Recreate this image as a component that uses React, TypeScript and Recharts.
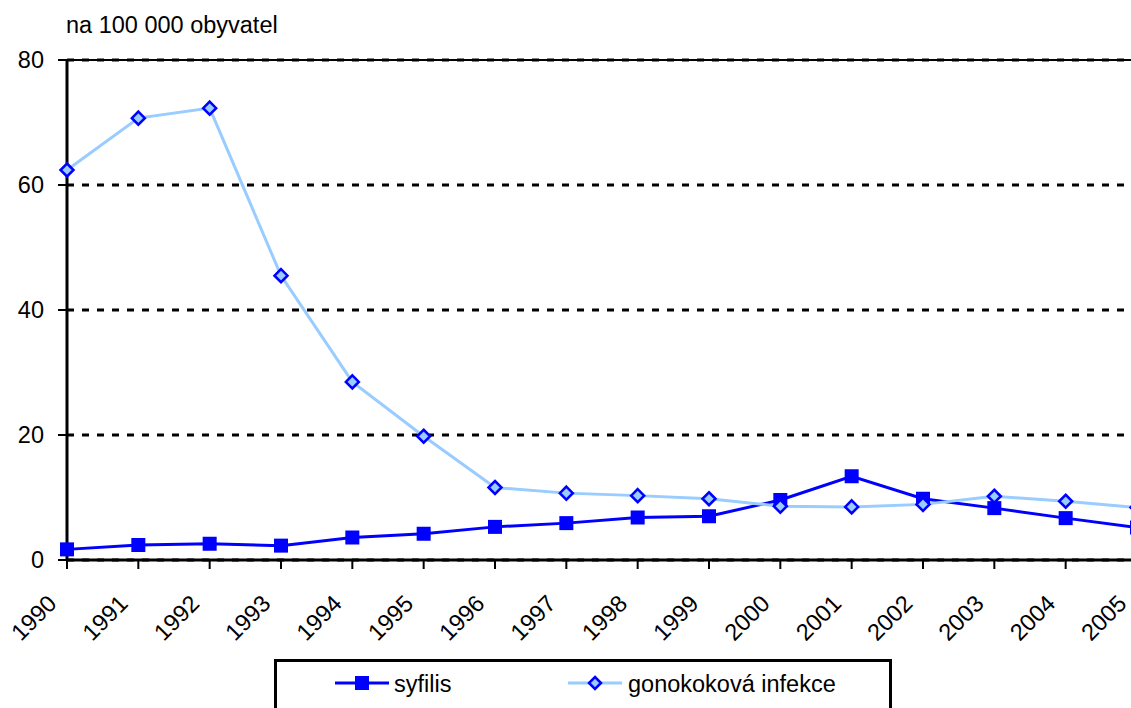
import { LineChart, Line, XAxis, YAxis, CartesianGrid, ReferenceLine } from "recharts";

const YEARS = ["1990", "1991", "1992", "1993", "1994", "1995", "1996", "1997", "1998", "1999", "2000", "2001", "2002", "2003", "2004", "2005"];
const SYFILIS = [1.7, 2.4, 2.6, 2.3, 3.6, 4.2, 5.3, 5.9, 6.8, 7.0, 9.6, 13.4, 9.8, 8.3, 6.7, 5.2];
const GONOKOKOVA = [62.4, 70.7, 72.3, 45.5, 28.5, 19.8, 11.6, 10.7, 10.3, 9.8, 8.6, 8.5, 8.9, 10.2, 9.4, 8.4];
const Y_TICKS = [0, 20, 40, 60, 80];
const TITLE = "na 100 000 obyvatel";

const FONT = "'Liberation Sans', Arial, sans-serif";
const FS = 23.5;
const DARK = "#0000FF";
const LIGHT = "#99CCFF";

const data = YEARS.map((rok, i) => ({
    rok,
    syfilis: SYFILIS[i],
    gono: GONOKOKOVA[i],
}));

// ctverecek pro syfilis
const SquareDot = (props: any) => {
    const { cx, cy } = props;
    if (cx == null || cy == null) return null;
    return <rect x={cx - 7} y={cy - 7} width={14} height={14} fill={DARK} />;
};

// kosoctverec pro gonokokovou infekci
const DiamondDot = (props: any) => {
    const { cx, cy } = props;
    if (cx == null || cy == null) return null;
    const r = 6.5;
    return (
        <polygon
            points={`${cx},${cy - r} ${cx + r},${cy} ${cx},${cy + r} ${cx - r},${cy}`}
            fill={LIGHT}
            stroke={DARK}
            strokeWidth={2.5}
        />
    );
};

const YearTick = (props: any) => {
    const { x, y, payload } = props;
    const tx = x - 9;
    const ty = y + 34;
    return (
        <text
            x={tx}
            y={ty}
            textAnchor="end"
            fontSize={FS}
            fontFamily={FONT}
            fill="#000"
            transform={`rotate(-45, ${tx}, ${ty})`}
        >
            {payload.value}
        </text>
    );
};

const SERIES = [
    { key: "syfilis", name: "syfilis", color: DARK, dot: "square", lineX: 58, textX: 117 },
    { key: "gono", name: "gonokoková infekce", color: LIGHT, dot: "diamond", lineX: 291, textX: 351 },
];

export default function App() {
    return (
        <div style={{ position: "absolute", left: 0, top: 0, width: 1131, height: 708, overflow: "hidden", background: "#fff", fontFamily: FONT }}>
            <div style={{ position: "absolute", left: 66, top: 14, fontSize: FS, lineHeight: 1, color: "#000", whiteSpace: "nowrap" }}>
                {TITLE}
            </div>

            <LineChart width={1160} height={708} data={data} margin={{ top: 60, right: 23, left: 0, bottom: 0 }}>
                <CartesianGrid vertical={false} stroke="#000" strokeWidth={3} strokeDasharray="7 8" />
                <ReferenceLine y={80} stroke="#000" strokeWidth={2} />
                <XAxis
                    dataKey="rok"
                    height={148}
                    interval={0}
                    axisLine={{ stroke: "#000", strokeWidth: 3 }}
                    tickLine={{ stroke: "#000", strokeWidth: 2 }}
                    tickSize={9}
                    tick={<YearTick />}
                />
                <YAxis
                    width={67}
                    domain={[0, 80]}
                    ticks={Y_TICKS}
                    interval={0}
                    axisLine={{ stroke: "#000", strokeWidth: 3 }}
                    tickLine={{ stroke: "#000", strokeWidth: 2 }}
                    tickSize={9}
                    tickMargin={14}
                    tick={{ fontSize: FS, fill: "#000", fontFamily: FONT }}
                />
                <Line
                    type="linear"
                    dataKey="syfilis"
                    stroke={DARK}
                    strokeWidth={3}
                    dot={<SquareDot />}
                    activeDot={false}
                    isAnimationActive={false}
                />
                <Line
                    type="linear"
                    dataKey="gono"
                    stroke={LIGHT}
                    strokeWidth={3}
                    dot={<DiamondDot />}
                    activeDot={false}
                    isAnimationActive={false}
                />
            </LineChart>

            {/* legenda */}
            <div style={{ position: "absolute", left: 274, top: 659, width: 612, height: 80, border: "3px solid #000", background: "#fff" }}>
                {SERIES.map((s) => (
                    <div key={s.key}>
                        <svg width={56} height={20} style={{ position: "absolute", left: s.lineX, top: 11, display: "block" }}>
                            <line x1={0} y1={10} x2={54} y2={10} stroke={s.color} strokeWidth={3} />
                            {s.dot === "square" ? (
                                <rect x={20} y={3} width={14} height={14} fill={DARK} />
                            ) : (
                                <polygon points="27,4 33,10 27,16 21,10" fill={LIGHT} stroke={DARK} strokeWidth={2.5} />
                            )}
                        </svg>
                        <span style={{ position: "absolute", left: s.textX, top: 11, fontSize: FS, lineHeight: 1, color: "#000", whiteSpace: "nowrap" }}>
                            {s.name}
                        </span>
                    </div>
                ))}
            </div>
        </div>
    );
}
